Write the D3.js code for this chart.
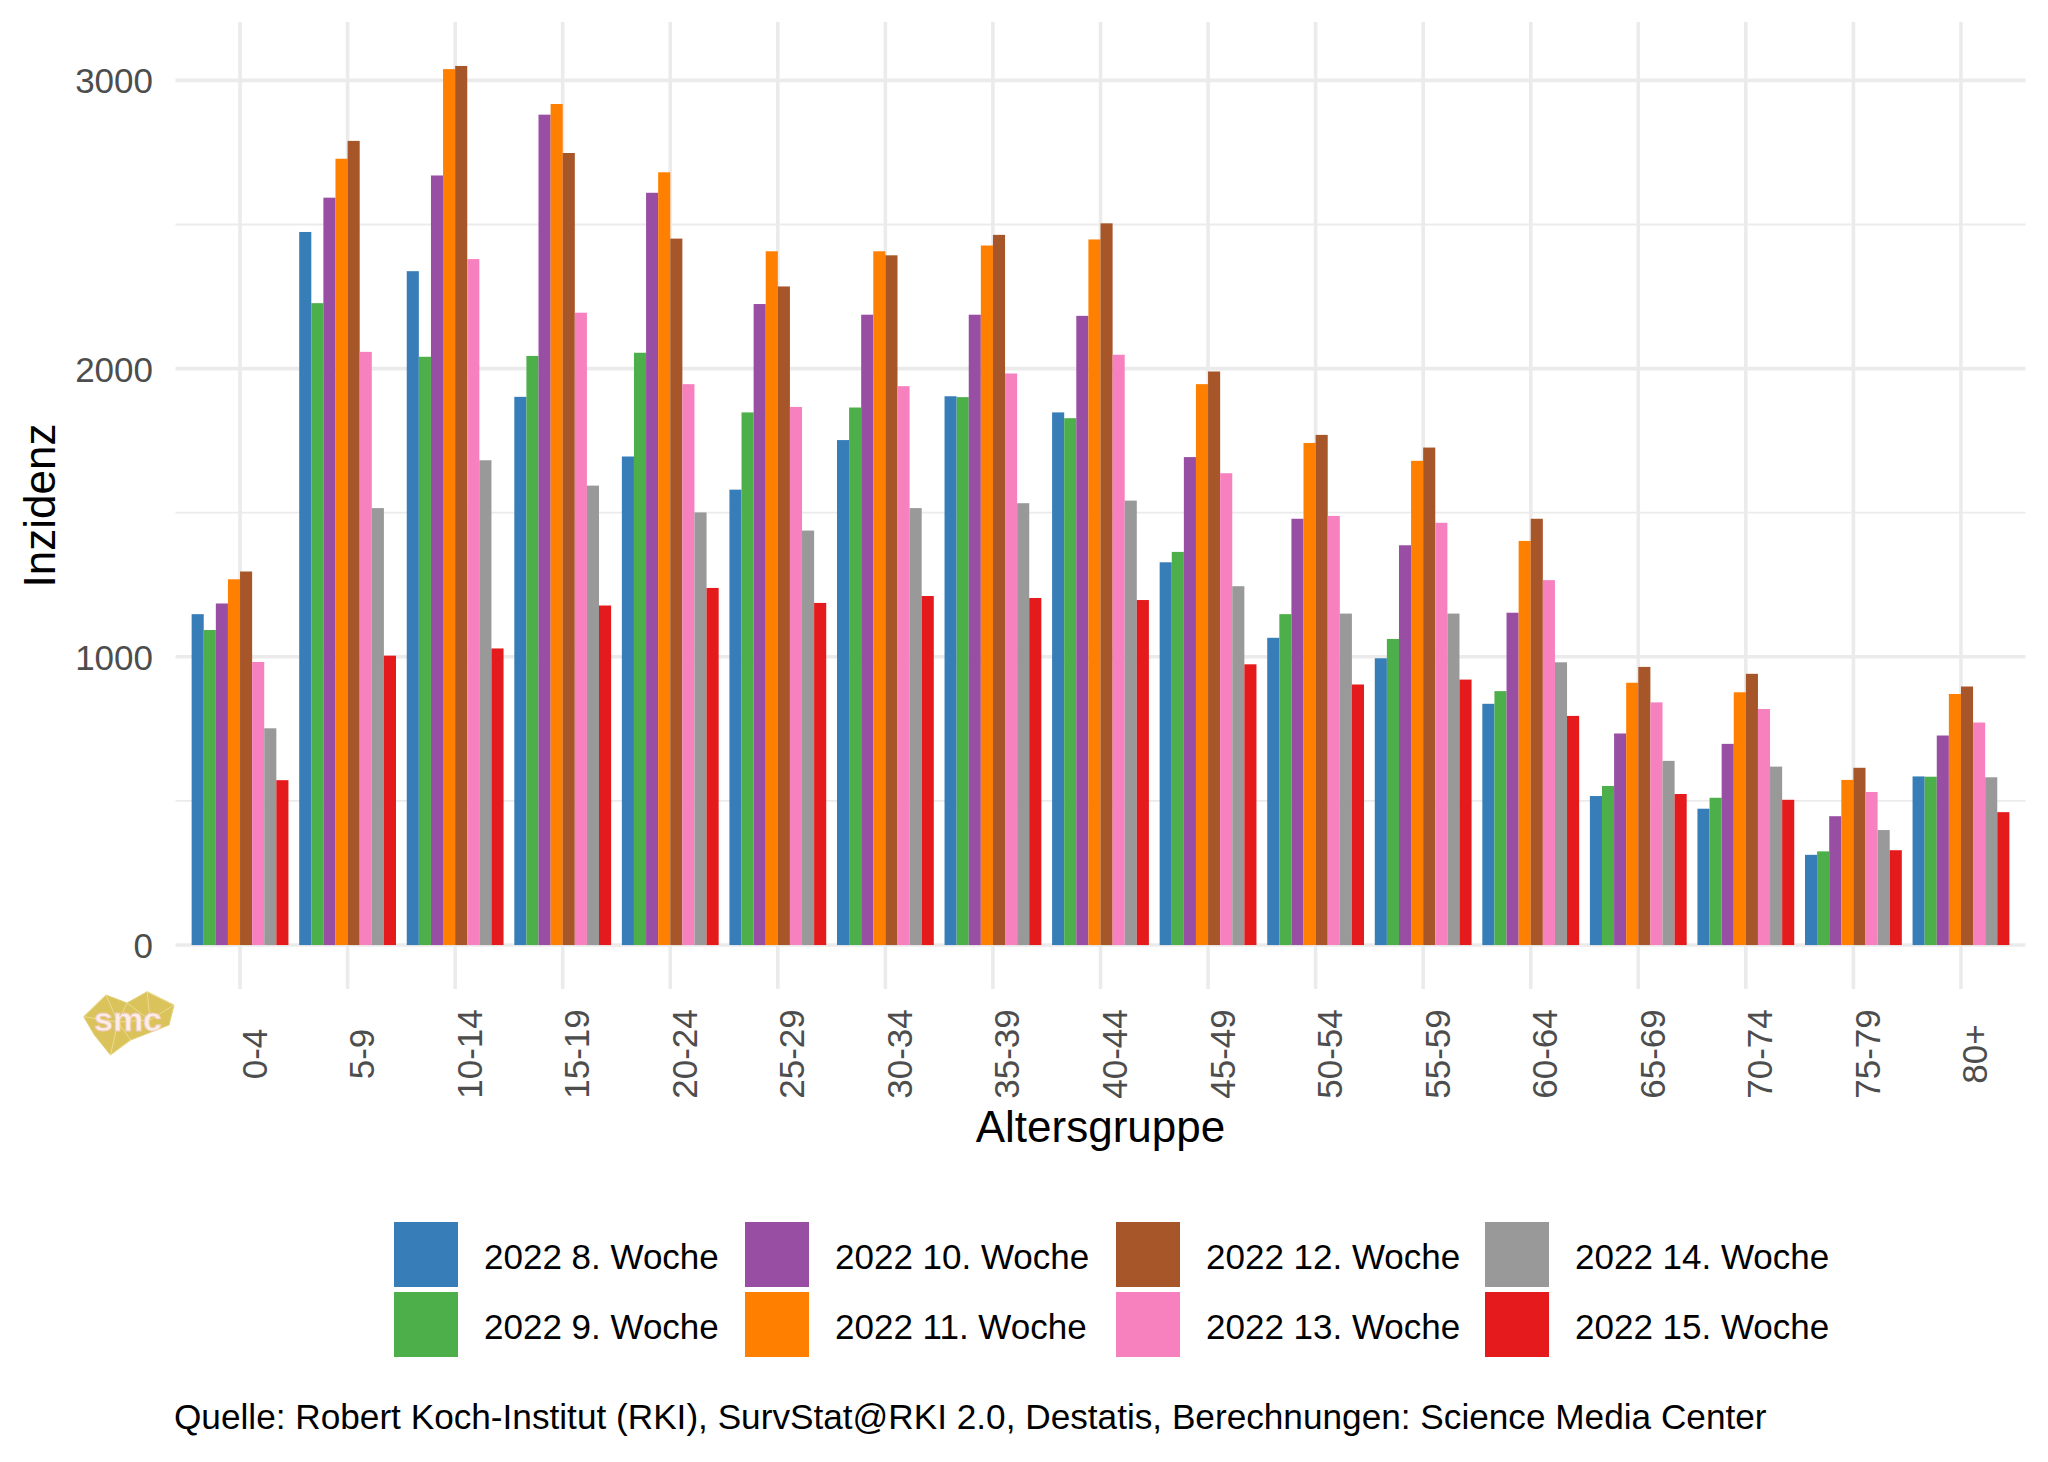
<!DOCTYPE html>
<html>
<head>
<meta charset="utf-8">
<script src="https://cdn.jsdelivr.net/npm/d3@7"></script>
<style>
  html, body { margin: 0; padding: 0; background: #ffffff; }
  svg { display: block; font-family: "Liberation Sans", Arial, Helvetica, sans-serif; }
</style>
</head>
<body>
<svg id="chart" width="2048" height="1462"></svg>
<script>
// ---------------- data ----------------
const ageGroups = ["0-4","5-9","10-14","15-19","20-24","25-29","30-34","35-39","40-44","45-49","50-54","55-59","60-64","65-69","70-74","75-79","80+"];
const weeks = ["2022 8. Woche","2022 9. Woche","2022 10. Woche","2022 11. Woche","2022 12. Woche","2022 13. Woche","2022 14. Woche","2022 15. Woche"];
const week8  = [1148, 2474, 2338, 1902, 1695, 1580, 1752, 1904, 1848, 1328, 1066,  995,  837, 517, 473, 313, 585];
const week9  = [1093, 2227, 2041, 2044, 2055, 1848, 1865, 1901, 1828, 1364, 1148, 1062,  881, 552, 511, 325, 584];
const week10 = [1185, 2593, 2670, 2881, 2610, 2224, 2187, 2187, 2183, 1693, 1479, 1387, 1153, 734, 698, 447, 727];
const week11 = [1269, 2728, 3039, 2918, 2681, 2407, 2407, 2427, 2448, 1946, 1742, 1680, 1402, 910, 877, 573, 871];
const week12 = [1296, 2790, 3050, 2748, 2451, 2285, 2393, 2464, 2504, 1990, 1770, 1726, 1479, 965, 941, 615, 897];
const week13 = [ 982, 2058, 2380, 2194, 1946, 1867, 1939, 1983, 2048, 1637, 1489, 1465, 1266, 842, 819, 531, 772];
const week14 = [ 752, 1516, 1682, 1594, 1501, 1438, 1516, 1533, 1542, 1245, 1150, 1150,  981, 639, 619, 399, 582];
const week15 = [ 572, 1004, 1029, 1178, 1239, 1187, 1211, 1204, 1197,  974,  904,  921,  795, 524, 504, 329, 461];
const seriesValues = [week8, week9, week10, week11, week12, week13, week14, week15];
const colors = ["#377EB8","#4DAF4A","#984EA3","#FF7F00","#A65628","#F781BF","#999999","#E41A1C"];
const yMajorTicks = [0, 1000, 2000, 3000];
const yMinorTicks = [500, 1500, 2500];
const xTitle = "Altersgruppe";
const yTitle = "Inzidenz";
const caption = "Quelle: Robert Koch-Institut (RKI), SurvStat@RKI 2.0, Destatis, Berechnungen: Science Media Center";

// ---------------- layout ----------------
const svg = d3.select("#chart");
const plot = { left: 175.5, right: 2025.5, top: 22, bottom: 989 };
const maxVal = d3.max(seriesValues, s => d3.max(s));
const yMin = -0.05 * maxVal, yMax = 1.05 * maxVal;

const x = d3.scaleBand().domain(ageGroups).range([plot.left, plot.right])
  .paddingInner(0.1).paddingOuter(0.15);
const xInner = d3.scaleBand().domain(weeks).range([0, x.bandwidth()]).padding(0);
const y = d3.scaleLinear().domain([yMin, yMax]).range([plot.bottom, plot.top]);

svg.append("rect").attr("width", 2048).attr("height", 1462).attr("fill", "#ffffff");

// grid
const grid = svg.append("g");
grid.selectAll("line.minor").data(yMinorTicks).join("line")
  .attr("x1", plot.left).attr("x2", plot.right)
  .attr("y1", d => y(d)).attr("y2", d => y(d))
  .attr("stroke", "#ebebeb").attr("stroke-width", 1.8);
grid.selectAll("line.majorY").data(yMajorTicks).join("line")
  .attr("x1", plot.left).attr("x2", plot.right)
  .attr("y1", d => y(d)).attr("y2", d => y(d))
  .attr("stroke", "#ebebeb").attr("stroke-width", 3.6);
grid.selectAll("line.majorX").data(ageGroups).join("line")
  .attr("x1", d => x(d) + x.bandwidth() / 2).attr("x2", d => x(d) + x.bandwidth() / 2)
  .attr("y1", plot.top).attr("y2", plot.bottom)
  .attr("stroke", "#ebebeb").attr("stroke-width", 3.6);

// bars
const barData = [];
seriesValues.forEach((vals, si) => {
  vals.forEach((v, ai) => barData.push({ age: ageGroups[ai], week: weeks[si], value: v, color: colors[si] }));
});
svg.append("g").selectAll("rect").data(barData).join("rect")
  .attr("x", d => x(d.age) + xInner(d.week))
  .attr("width", xInner.bandwidth())
  .attr("y", d => y(d.value))
  .attr("height", d => y(0) - y(d.value))
  .attr("fill", d => d.color);

// y axis labels
const yAxis = d3.axisLeft(y).tickValues(yMajorTicks).tickSize(0).tickPadding(0).tickFormat(d3.format("d"));
const gy = svg.append("g").attr("transform", `translate(153,0)`).call(yAxis);
gy.select(".domain").remove();
gy.selectAll("text").attr("font-size", 35).attr("fill", "#4d4d4d")
  .attr("font-family", "'Liberation Sans', Arial, Helvetica, sans-serif")
  .attr("dy", "0.36em");

// x axis labels (rotated)
const gx = svg.append("g");
gx.selectAll("text").data(ageGroups).join("text")
  .attr("transform", d => `translate(${x(d) + x.bandwidth() / 2 + 26.5},1054) rotate(-90)`)
  .attr("text-anchor", "middle")
  .attr("font-size", 35).attr("fill", "#4d4d4d")
  .text(d => d);

// axis titles
svg.append("text").attr("x", (plot.left + plot.right) / 2).attr("y", 1142)
  .attr("text-anchor", "middle").attr("font-size", 44).attr("fill", "#000000").text(xTitle);
svg.append("text").attr("transform", `translate(55,${(plot.top + plot.bottom) / 2}) rotate(-90)`)
  .attr("text-anchor", "middle").attr("font-size", 44).attr("fill", "#000000").text(yTitle);

// legend (4 columns, 2 rows, filled by column)
const legendColX = [394, 745, 1116, 1485];
const legendRowY = [1222, 1292];
const legend = svg.append("g");
weeks.forEach((w, i) => {
  const col = Math.floor(i / 2), row = i % 2;
  const g = legend.append("g").attr("transform", `translate(${legendColX[col]},${legendRowY[row]})`);
  g.append("rect").attr("width", 64).attr("height", 65).attr("fill", colors[i]);
  g.append("text").attr("x", 90).attr("y", 46.5).attr("font-size", 35).attr("fill", "#000000").text(w);
});

// caption
svg.append("text").attr("x", 174).attr("y", 1429).attr("font-size", 35.2).attr("fill", "#000000").text(caption);

// smc logo
const logo = svg.append("g");
const logoPts = [[83.7,1016.7],[105.9,995],[127,1003],[147.2,991.7],[174,1005],[169,1025],[151.8,1031.7],[130.7,1040],[110.5,1055],[94.4,1035]];
logo.append("polygon").attr("points", logoPts.map(p => p.join(",")).join(" "))
  .attr("fill", "#d9c35a").attr("stroke", "#e3cf72").attr("stroke-width", 1);
const facets = [[[105.9,995],[118,1022],[83.7,1016.7]],[[147.2,991.7],[150,1020],[174,1005]],[[118,1022],[130.7,1040],[110.5,1055]],[[127,1003],[150,1020],[118,1022]]];
logo.selectAll("polyline.facet").data(facets).join("polyline")
  .attr("points", d => d.concat([d[0]]).map(p => p.join(",")).join(" "))
  .attr("fill", "none").attr("stroke", "#f0dfa0").attr("stroke-width", 0.8);
logo.append("text").attr("x", 128).attr("y", 1031).attr("text-anchor", "middle")
  .attr("font-size", 34).attr("font-weight", "bold").attr("fill", "#fbeee6")
  .attr("stroke", "#f2c9c0").attr("stroke-width", 0.8).text("smc");
</script>
</body>
</html>
